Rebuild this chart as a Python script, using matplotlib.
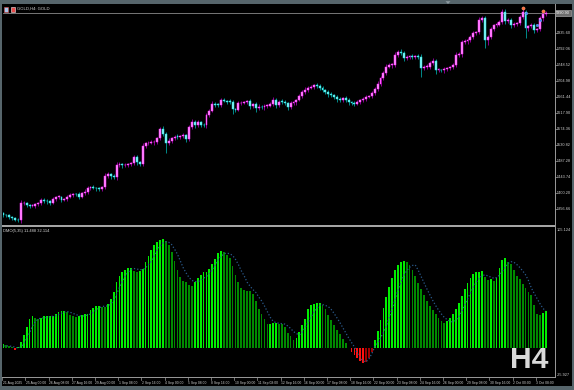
import matplotlib
matplotlib.use("Agg")
import matplotlib.pyplot as plt
from matplotlib.patches import Rectangle, Polygon
from matplotlib.lines import Line2D

W, H = 574, 390

# ---- GOLD H4 candles (closes), first bar 21 Aug 2025 16:00 ----
closes = [
    5340.3, 5339.0, 5334.9, 5332.2, 5326.7, 5325.4, 5371.6, 5373.0, 5367.5, 5364.8,
    5364.8, 5370.3, 5372.2, 5381.2, 5379.3, 5377.1, 5373.8, 5383.1, 5389.3, 5390.1,
    5381.2, 5383.1, 5389.3, 5394.8, 5397.5, 5396.7, 5390.1, 5399.4, 5403.8, 5413.0,
    5415.7, 5413.8, 5412.5, 5410.3, 5415.7, 5446.5, 5451.9, 5446.5, 5442.4, 5476.4,
    5479.1, 5475.1, 5476.4, 5479.1, 5480.5, 5497.4, 5484.6, 5479.1, 5528.1, 5534.9,
    5537.1, 5537.6, 5539.8, 5549.1, 5573.6, 5560.8, 5536.3, 5542.5, 5549.1, 5553.4,
    5552.6, 5554.0, 5558.0, 5547.2, 5579.0, 5594.2, 5585.2, 5593.4, 5585.2, 5583.9,
    5612.5, 5624.2, 5642.4, 5641.0, 5639.7, 5653.3, 5650.6, 5648.7, 5647.8, 5628.0,
    5627.4, 5644.3, 5645.9, 5647.8, 5649.2, 5637.0, 5642.4, 5630.7, 5635.1, 5633.4,
    5637.0, 5637.8, 5642.4, 5653.3, 5639.7, 5648.7, 5647.8, 5645.1, 5635.1, 5644.3,
    5646.5, 5653.3, 5664.2, 5675.1, 5680.5, 5685.9, 5690.0, 5694.1, 5691.4, 5685.9,
    5680.5, 5675.1, 5669.6, 5666.9, 5661.5, 5656.0, 5653.3, 5658.7, 5653.3, 5647.8,
    5645.1, 5642.4, 5647.8, 5653.3, 5656.0, 5661.5, 5664.2, 5672.3, 5683.2, 5696.8,
    5713.2, 5726.8, 5743.1, 5748.5, 5748.5, 5775.7, 5783.9, 5782.0, 5767.6, 5769.5,
    5771.7, 5771.1, 5771.7, 5770.3, 5740.4, 5743.9, 5744.4, 5754.8, 5759.4, 5734.9,
    5734.9, 5733.6, 5736.3, 5739.0, 5743.1, 5748.5, 5775.7, 5778.5, 5809.8, 5812.5,
    5816.6, 5824.7, 5834.8, 5838.3, 5871.0, 5875.6, 5816.6, 5825.5, 5845.7, 5857.4,
    5858.7, 5866.4, 5893.6, 5869.1, 5871.0, 5857.4, 5860.1, 5862.8, 5878.3, 5893.6,
    5848.4, 5854.7, 5857.4, 5843.8, 5846.5, 5875.6, 5887.3, 5890.9,
]
first_open = 5344.4

# wick lengths above / below the body (price units)
wick_up = [
    4, 3, 5, 3, 4, 6, 9, 5, 4, 3,
    5, 4, 3, 6, 4, 5, 3, 6, 4, 5,
    3, 4, 5, 6, 4, 3, 5, 4, 6, 5,
    4, 6, 3, 5, 4, 8, 6, 4, 5, 7,
    5, 4, 6, 3, 5, 7, 5, 4, 8, 5,
    4, 6, 5, 4, 7, 9, 5, 6, 4, 5,
    6, 4, 5, 3, 6, 7, 5, 6, 4, 5,
    6, 5, 7, 6, 4, 6, 5, 4, 6, 5,
    4, 6, 5, 4, 5, 6, 4, 5, 7, 4,
    5, 4, 6, 8, 5, 4, 6, 5, 4, 6,
    5, 4, 6, 5, 7, 6, 5, 4, 6, 5,
    6, 4, 5, 6, 4, 5, 6, 4, 5, 6,
    4, 5, 6, 4, 5, 6, 4, 5, 6, 7,
    6, 5, 7, 5, 6, 8, 6, 7, 5, 6,
    5, 6, 4, 6, 9, 5, 6, 5, 7, 6,
    5, 4, 6, 5, 4, 6, 7, 5, 8, 6,
    5, 6, 5, 4, 8, 6, 5, 6, 5, 4,
    6, 5, 8, 6, 5, 6, 5, 4, 6, 7,
    5, 4, 6, 5, 4, 6, 5, 4,
]
wick_dn = [
    5, 4, 6, 5, 4, 5, 6, 4, 5, 6,
    4, 5, 6, 4, 5, 6, 5, 4, 6, 5,
    6, 4, 5, 4, 6, 5, 6, 4, 5, 6,
    5, 4, 6, 5, 4, 6, 5, 7, 5, 6,
    5, 6, 4, 5, 6, 4, 8, 6, 5, 6,
    5, 4, 6, 5, 4, 6, 26, 5, 6, 4,
    5, 6, 4, 7, 5, 6, 8, 5, 6, 5,
    6, 5, 4, 6, 5, 6, 4, 5, 6, 14,
    8, 5, 6, 4, 5, 8, 5, 9, 6, 5,
    6, 5, 4, 6, 8, 5, 6, 5, 8, 6,
    5, 6, 4, 5, 6, 5, 4, 6, 5, 6,
    5, 6, 8, 5, 6, 7, 5, 6, 5, 7,
    6, 5, 4, 6, 5, 6, 4, 5, 6, 5,
    6, 5, 6, 4, 7, 5, 6, 7, 8, 6,
    5, 6, 5, 6, 24, 6, 5, 6, 5, 10,
    6, 5, 6, 5, 4, 6, 5, 6, 7, 5,
    6, 5, 6, 5, 6, 5, 22, 15, 6, 5,
    6, 5, 6, 9, 5, 8, 6, 5, 6, 5,
    27, 6, 5, 8, 6, 5, 6, 5,
]

# ---- DMO oscillator histogram and its signal line ----
hist = [
    3.0, 2.2, 1.5, 0.6, -2.0, 0.5, 5.1, 11.3, 17.8, 25.0,
    27.4, 25.7, 24.8, 26.0, 27.3, 27.7, 27.8, 28.0, 29.5, 31.2,
    31.8, 32.1, 31.0, 29.0, 27.7, 27.1, 27.7, 28.3, 29.7, 29.9,
    32.7, 35.2, 36.8, 36.9, 36.0, 35.9, 38.7, 42.7, 48.8, 57.6,
    63.3, 66.0, 68.2, 69.7, 69.8, 67.7, 66.8, 67.5, 69.5, 74.8,
    80.5, 85.8, 90.6, 93.0, 94.5, 95.2, 94.0, 90.2, 84.0, 76.0,
    68.2, 61.6, 58.9, 57.6, 55.4, 54.5, 57.2, 61.1, 63.8, 66.0,
    66.6, 69.0, 73.4, 78.0, 83.1, 84.6, 83.7, 81.8, 78.3, 71.7,
    64.2, 57.6, 52.3, 50.6, 50.0, 49.3, 47.0, 40.8, 34.3, 29.5,
    25.1, 20.6, 20.7, 21.2, 21.6, 21.1, 20.9, 18.0, 13.2, 10.1,
    7.0, 8.4, 13.6, 19.8, 25.5, 33.9, 37.1, 38.7, 38.9, 39.3,
    37.8, 33.9, 28.6, 24.6, 20.2, 15.8, 12.3, 7.5, 4.2, -0.8,
    -3.5, -6.5, -9.5, -12.0, -13.9, -12.8, -9.5, -4.2, 6.6, 14.5,
    24.2, 34.7, 44.4, 53.2, 61.1, 68.2, 72.6, 75.2, 76.1, 75.2,
    72.6, 68.2, 62.9, 56.7, 51.5, 46.2, 40.9, 36.5, 33.0, 29.5,
    25.9, 23.3, 21.5, 23.3, 25.9, 29.5, 33.9, 39.1, 45.3, 51.5,
    56.7, 61.1, 64.6, 66.4, 66.8, 67.3, 62.0, 59.4, 60.2, 58.5,
    61.1, 69.9, 77.4, 78.4, 75.5, 73.9, 68.2, 62.9, 60.2, 55.8,
    52.1, 49.1, 46.2, 37.4, 29.9, 29.0, 30.3, 32.114,
]
signal = [
    1.3, 1.4, 1.3, 1.0, 0.2, -0.5, 0.5, 3.5, 8.0, 13.0,
    19.0, 23.0, 25.0, 26.0, 26.0, 26.5, 27.0, 27.5, 28.0, 29.0,
    30.0, 31.0, 31.5, 31.0, 30.0, 29.0, 28.0, 27.5, 28.0, 28.5,
    29.5, 31.0, 33.0, 35.0, 36.0, 36.5, 36.5, 38.0, 42.0, 47.0,
    53.0, 58.5, 63.0, 66.5, 68.5, 69.5, 69.0, 68.5, 68.5, 70.0,
    73.0, 76.0, 81.0, 86.5, 89.5, 92.0, 93.0, 92.5, 90.5, 86.5,
    82.0, 76.0, 70.0, 65.5, 61.5, 59.0, 58.0, 58.0, 59.2, 61.0,
    62.5, 65.0, 68.5, 72.5, 77.0, 80.0, 82.5, 83.0, 82.5, 81.0,
    77.5, 73.0, 67.5, 63.0, 57.5, 54.0, 51.0, 48.5, 44.5, 41.0,
    36.5, 31.5, 26.5, 23.0, 21.8, 21.3, 21.0, 20.6, 19.0, 16.8,
    14.0, 12.3, 11.0, 13.5, 17.5, 22.0, 27.0, 31.0, 34.5, 37.0,
    37.8, 37.0, 36.0, 33.5, 30.0, 26.0, 22.0, 17.5, 13.0, 8.5,
    4.5, 0.5, -5.0, -9.0, -12.0, -12.5, -10.0, -5.5, 0.5, 4.0,
    8.5, 13.0, 19.0, 26.0, 34.0, 42.0, 50.0, 57.0, 63.0, 67.5,
    70.5, 72.2, 72.6, 68.0, 62.5, 57.0, 51.5, 46.5, 41.5, 37.0,
    33.0, 29.5, 26.5, 24.5, 23.0, 22.5, 24.0, 27.0, 31.5, 37.0,
    42.5, 48.0, 53.0, 57.5, 61.0, 63.0, 64.0, 63.0, 62.0, 61.0,
    61.5, 63.5, 67.0, 71.0, 74.0, 75.5, 75.0, 73.0, 70.5, 67.5,
    64.0, 59.0, 52.5, 47.5, 43.0, 38.5, 34.5, 32.0,
]

price_ticks = [5356.66, 5400.20, 5443.74, 5487.28, 5530.82, 5574.36,
               5617.90, 5661.44, 5704.98, 5748.52, 5792.06, 5835.60]
price_range = (5315.8, 5911.8)
osc_range = (-25.927, 105.124)

time_labels = ["21 Aug 2025", "25 Aug 00:00", "26 Aug 08:00", "27 Aug 16:00",
               "29 Aug 00:00", "1 Sep 08:00", "2 Sep 16:00", "4 Sep 00:00",
               "5 Sep 08:00", "8 Sep 16:00", "10 Sep 00:00", "11 Sep 08:00",
               "12 Sep 16:00", "16 Sep 00:00", "17 Sep 08:00", "18 Sep 16:00",
               "22 Sep 00:00", "23 Sep 08:00", "24 Sep 16:00", "26 Sep 00:00",
               "29 Sep 08:00", "30 Sep 16:00", "2 Oct 00:00", "3 Oct 08:00"]
time_label_bars = [0, 8, 16, 24, 32, 40, 48, 56, 64, 72, 80, 88, 96, 104,
                   112, 120, 128, 136, 144, 152, 160, 168, 176, 184]

# trade markers near the last bars
sell_bars = [179, 186]
sell_prices = [5903.0, 5895.0]
buy_bars = [180, 184, 185]
buy_prices = [5889.0, 5858.0, 5870.0]

osc_label = "DMO(5,35) 11.488 32.114"
title = "GOLD,H4: GOLD"

# ---------------------------------------------------------------
plt.rcParams['font.family'] = ['Liberation Sans', 'DejaVu Sans']

fig = plt.figure(figsize=(W / 100, H / 100), dpi=100, facecolor='#56656b')


def fx(px):
    return px / W


def fy(py):
    return 1 - py / H


# black chart window (behind the axes)
fig.patches.append(Rectangle((fx(2), fy(386)), fx(570), 382 / H, zorder=-10,
                             transform=fig.transFigure, fc='black', ec='none'))

n = len(closes)
idx = list(range(n))
xlim = (-0.17, 190.17)

ax = fig.add_axes([fx(3), fy(224), 552 / W, 219 / H])
ax2 = fig.add_axes([fx(3), fy(377), 552 / W, 149 / H])
for a in (ax, ax2):
    a.set_facecolor('none')
    a.set_xlim(*xlim)
    a.set_xticks([])
    a.set_yticks([])
    for s in a.spines.values():
        s.set_visible(False)
ax.set_ylim(*price_range)
ax2.set_ylim(*osc_range)

# ---- candles ----
opens = [first_open] + closes[:-1]
highs = [max(o, c) + u for o, c, u in zip(opens, closes, wick_up)]
lows = [min(o, c) - d for o, c, d in zip(opens, closes, wick_dn)]
bull = [c >= o for o, c in zip(opens, closes)]
wick_col = ['#a000a8' if b else '#00a0a0' for b in bull]
body_col = ['#ff8cff' if b else '#8cf4f4' for b in bull]
edge_col = ['#ff30ff' if b else '#20e0e0' for b in bull]

ax.vlines(idx, lows, highs, colors=wick_col, lw=0.6, zorder=2)
ax.bar(idx, [max(abs(c - o), 1.6) for o, c in zip(opens, closes)],
       bottom=[min(o, c) for o, c in zip(opens, closes)], width=0.66,
       color=body_col, edgecolor=edge_col, lw=0.35, zorder=3)

# bid line
ax.axhline(closes[-1], color='#8a8a8a', lw=0.6, zorder=1)

ax.plot(sell_bars, sell_prices, 'o', ms=2.3, color='#ff6a3c', mec='#ffb080',
        mew=0.3, zorder=4)
ax.plot(buy_bars, buy_prices, 'o', ms=1.8, color='#3c7cff', mec='#90b8ff',
        mew=0.3, zorder=4)

# ---- oscillator histogram ----
cols = []
for i, v in enumerate(hist):
    prev = hist[i - 1] if i else v
    if v >= 0:
        cols.append('#00ee00' if v >= prev else '#008a00')
    else:
        cols.append('#ff1010' if v <= prev else '#a00000')
ax2.bar(idx, hist, width=0.62, color=cols, lw=0, zorder=2)
ax2.plot(idx, signal, color='#2a5a8c', lw=0.9, ls=(0, (1, 1.6)), zorder=3)

# ---- frame lines ----
lc = '#9a9a9a'
fig.lines.append(Line2D([fx(555), fx(555)], [fy(4), fy(377)], color=lc, lw=0.7,
                        transform=fig.transFigure))
fig.lines.append(Line2D([fx(2), fx(555)], [fy(377), fy(377)], color=lc, lw=0.7,
                        transform=fig.transFigure))
fig.patches.append(Rectangle((fx(2), fy(227)), fx(553), 2.4 / H,
                             transform=fig.transFigure, fc='#a4a4a4', ec='none'))

# ---- price axis ----
ytr = ax.get_yaxis_transform()
for p in price_ticks:
    ax.plot([1.0, 1.004], [p, p], color=lc, lw=0.5, transform=ytr, clip_on=False)
    ax.text(1.0027, p, f"{p:.2f}", transform=ytr, fontsize=2.8, color='#d0d0d0',
            va='center', ha='left', clip_on=False)
ax.text(1.0022, closes[-1], f"{closes[-1]:.2f}", transform=ytr, fontsize=2.8,
        color='white', va='center', ha='left', clip_on=False,
        bbox=dict(boxstyle='square,pad=0.25', fc='#6e6e6e', ec='#c0c0c0', lw=0.4))

ytr2 = ax2.get_yaxis_transform()
ax2.text(1.0027, osc_range[1], f"{osc_range[1]:.3f}", transform=ytr2, fontsize=2.8,
         color='#d0d0d0', va='top', ha='left', clip_on=False)
ax2.text(1.0027, osc_range[0], f"{osc_range[0]:.3f}", transform=ytr2, fontsize=2.8,
         color='#d0d0d0', va='bottom', ha='left', clip_on=False)

# ---- time axis ----
xtr = ax2.get_xaxis_transform()
for b, lab in zip(time_label_bars, time_labels):
    ax2.plot([b - 0.45, b - 0.45], [0, -0.018], color=lc, lw=0.5, transform=xtr,
             clip_on=False)
    ax2.text(b - 0.3, -0.037, lab, transform=xtr, fontsize=2.45, color='#d0d0d0',
             va='center', ha='left', clip_on=False)

# ---- captions ----
fig.patches.append(Rectangle((fx(3.5), fy(11.5)), 4.5 / W, 5 / H,
                             transform=fig.transFigure, fc='#a8c8ec', ec='#e05050', lw=0.4))
fig.patches.append(Rectangle((fx(10.5), fy(11.5)), 4.5 / W, 5 / H,
                             transform=fig.transFigure, fc='#e84848', ec='#f0f0f0', lw=0.4))
fig.text(fx(17), fy(9), title, fontsize=3.0, color='#d8d8d8', va='center', ha='left')
fig.text(fx(3), fy(231), osc_label, fontsize=2.9, color='#d8d8d8', va='center', ha='left')
fig.text(fx(509.5), fy(368.3), "H4", fontsize=21.6, fontweight='bold', color='#d9d9d9',
         va='baseline', ha='left')

fig.patches.append(Polygon([(fx(445.5), fy(1.2)), (fx(450.5), fy(1.2)), (fx(448), fy(4))],
                           closed=True, transform=fig.transFigure, fc='#8d9aa0', ec='none'))

fig.savefig("out.png", dpi=100, facecolor=fig.get_facecolor())
